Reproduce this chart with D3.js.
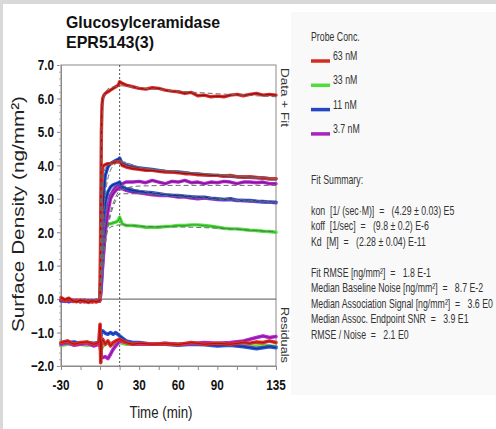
<!DOCTYPE html>
<html>
<head>
<meta charset="utf-8">
<script src="https://cdn.jsdelivr.net/npm/d3@7"></script>
<style>
  body{margin:0;padding:0;background:#fff;}
  svg{display:block;}
</style>
</head>
<body>
<div class="container"></div>
<script>
// time points (min) shared by all sensorgram traces
var T=[-30,-27,-24,-21,-18,-15,-12,-9,-6,-3,-0.5, 0,0.5,1,1.5,2,3,4,6,8,10,12,14,15, 17,20,25,30,35,40,45,50,55,60,65,70,75,80,85,90,95,100,105,110,115,120,125,130,135];
// surface density (ng/mm2)
var r63a=[0.05,-0.02,0.03,-0.05,-0.08,-0.03,-0.06,-0.1,-0.05,-0.08,-0.05, 0.0,2.5,5.0,5.8,6.0,6.1,6.15,6.2,6.25,6.3,6.35,6.4,6.5, 6.45,6.4,6.35,6.3,6.28,6.32,6.3,6.25,6.22,6.2,6.15,6.18,6.08,6.1,6.05,6.07,6.05,6.1,6.12,6.08,6.12,6.15,6.1,6.12,6.1];
var r63b=[0.0,-0.05,-0.02,-0.06,-0.04,-0.08,-0.05,-0.06,-0.09,-0.04,-0.05, 0.0,1.5,3.0,3.7,3.95,4.0,4.02,4.05,4.05,4.08,4.1,4.1,4.12, 4.0,3.95,3.9,3.88,3.85,3.85,3.82,3.8,3.8,3.78,3.75,3.75,3.72,3.72,3.7,3.7,3.68,3.7,3.66,3.65,3.66,3.64,3.62,3.6,3.6];
var b11a=[-0.03,-0.06,-0.02,-0.07,-0.05,-0.04,-0.08,-0.05,-0.06,-0.03,-0.04, 0.0,0.6,1.3,2.0,2.6,3.3,3.7,3.95,4.05,4.1,4.15,4.18,4.22, 4.05,4.0,3.95,3.92,3.9,3.88,3.85,3.82,3.8,3.8,3.78,3.75,3.74,3.72,3.7,3.7,3.68,3.67,3.66,3.65,3.64,3.63,3.62,3.6,3.6];
var b11b=[-0.05,-0.03,-0.07,-0.04,-0.06,-0.05,-0.03,-0.07,-0.04,-0.06,-0.05, 0.0,0.4,0.9,1.4,1.9,2.5,2.9,3.2,3.35,3.42,3.45,3.48,3.5, 3.35,3.3,3.25,3.22,3.2,3.18,3.15,3.12,3.1,3.1,3.08,3.06,3.05,3.05,3.02,3.0,2.98,3.0,2.96,2.95,2.95,2.93,2.92,2.9,2.9];
var p37a=[-0.04,-0.07,-0.05,-0.03,-0.06,-0.08,-0.04,-0.05,-0.07,-0.05,-0.06, 0.0,0.2,0.5,0.8,1.1,1.7,2.2,2.8,3.1,3.25,3.35,3.4,3.45, 3.45,3.5,3.5,3.52,3.48,3.55,3.5,3.45,3.52,3.5,3.55,3.48,3.5,3.45,3.5,3.48,3.52,3.5,3.45,3.5,3.5,3.48,3.5,3.45,3.45];
var p37b=[-0.06,-0.04,-0.08,-0.05,-0.03,-0.06,-0.07,-0.04,-0.05,-0.08,-0.06, 0.0,0.15,0.4,0.7,1.0,1.5,2.0,2.6,3.0,3.15,3.25,3.3,3.35, 3.3,3.25,3.2,3.18,3.15,3.12,3.1,3.1,3.08,3.05,3.05,3.02,3.0,3.02,3.0,2.98,2.97,2.98,2.95,2.95,2.93,2.92,2.9,2.9,2.88];
var g33=[-0.02,-0.05,-0.04,-0.06,-0.03,-0.05,-0.07,-0.04,-0.06,-0.05,-0.04, 0.0,0.5,1.0,1.5,1.9,2.15,2.2,2.25,2.25,2.28,2.3,2.35,2.45, 2.25,2.2,2.2,2.18,2.15,2.15,2.15,2.17,2.18,2.2,2.2,2.22,2.22,2.2,2.18,2.15,2.12,2.1,2.1,2.08,2.06,2.05,2.03,2.02,2.0];

// fitted curves (dashed)
var FT=[0,1,2,3,5,8,12,15,30,60,90,120,135];
var fitR63a=[0,4.6,5.7,6.05,6.25,6.32,6.36,6.38,6.32,6.22,6.14,6.08,6.05];
var fitR63b=[0,2.6,3.5,3.8,3.97,4.05,4.08,4.1,3.95,3.82,3.72,3.64,3.6];
var fitB11a=[0,1.2,2.1,2.7,3.4,3.85,4.05,4.12,3.95,3.82,3.72,3.64,3.6];
var fitB11b=[0,0.9,1.6,2.1,2.7,3.1,3.32,3.4,3.25,3.12,3.02,2.94,2.9];
var fitP37a=[0,0.5,1.0,1.4,2.0,2.6,3.05,3.25,3.38,3.4,3.4,3.4,3.4];
var fitP37b=[0,0.4,0.9,1.3,1.9,2.5,2.95,3.15,3.15,3.06,2.98,2.92,2.88];
var fitG33=[0,0.9,1.4,1.7,2.0,2.15,2.2,2.22,2.18,2.16,2.12,2.05,2.02];

// residuals, drawn with their offset around -1.35
var RT=[-30,-25,-20,-15,-10,-5,-1, 0,0.5,1,2,4,6,8,10,12,15, 20,25,30, 40,50,60,70,80,90,100,110, 115,120,125,130,135];
var resR=[-1.3,-1.25,-1.35,-1.3,-1.28,-1.35,-1.3, -0.75,-1.9,-1.3,-1.2,-1.35,-1.25,-1.4,-1.3,-1.25,-1.2, -1.3,-1.35,-1.32, -1.35,-1.33,-1.36,-1.3,-1.35,-1.32,-1.35,-1.3, -1.32,-1.28,-1.3,-1.25,-1.3];
var resB=[-1.32,-1.3,-1.28,-1.33,-1.3,-1.32,-1.3, -1.25,-1.15,-1.0,-0.95,-1.02,-1.05,-1.0,-1.05,-1.0,-1.1, -1.25,-1.3,-1.3, -1.35,-1.35,-1.38,-1.35,-1.36,-1.4,-1.38,-1.42, -1.45,-1.48,-1.45,-1.42,-1.45];
var resP=[-1.35,-1.3,-1.38,-1.35,-1.32,-1.4,-1.35, -1.4,-1.55,-1.7,-1.75,-1.72,-1.78,-1.65,-1.5,-1.4,-1.25, -1.3,-1.35,-1.35, -1.35,-1.32,-1.35,-1.33,-1.3,-1.32,-1.3,-1.25, -1.2,-1.15,-1.1,-1.15,-1.12];
var resG=[-1.38,-1.35,-1.32,-1.35,-1.38,-1.35,-1.33, -1.3,-1.45,-1.5,-1.4,-1.35,-1.3,-1.32,-1.35,-1.3,-1.3, -1.35,-1.35,-1.34, -1.35,-1.33,-1.35,-1.32,-1.35,-1.36,-1.38,-1.4, -1.42,-1.4,-1.38,-1.4,-1.42];

// axis ticks
var yTicks=[-2,-1,0,1,2,3,4,5,6,7];
var xTickLabels=[-30,0,30,60,90,135];

// legend + fit summary
var legendNames=["63 nM","33 nM","11 nM","3.7 nM"];
var legendColors=["#d42a22","#4fdc3c","#2447c0","#a424bc"];
var statLines=[
  "kon  [1/ (sec·M)]  =   (4.29 ± 0.03) E5",
  "koff  [1/sec]  =   (9.8 ± 0.2) E-6",
  "Kd  [M]  =   (2.28 ± 0.04) E-11",
  "",
  "Fit RMSE [ng/mm²]  =   1.8 E-1",
  "Median Baseline Noise [ng/mm²]  =   8.7 E-2",
  "Median Association Signal [ng/mm²]  =   3.6 E0",
  "Median Assoc. Endpoint SNR  =   3.9 E1",
  "RMSE / Noise  =   2.1 E0"
];

var w=496, h=429;
var narrow="'Liberation Sans Narrow','Arial Narrow','Liberation Sans',Arial,sans-serif";
var plain="'Liberation Sans',Arial,sans-serif";

var svg=d3.select(".container").append("svg")
  .attr("width",w)
  .attr("height",h);

// gray frame + white page + off-white side panel
svg.append("rect").attr("width",w).attr("height",h).attr("fill","#d9d9d9");
svg.append("rect").attr("x",3).attr("y",4).attr("width",w-3).attr("height",h-4).attr("fill","#ffffff");
svg.append("rect").attr("x",291).attr("y",12).attr("width",205).attr("height",383).attr("fill","#f9f9f9");

// scales
var x=d3.scaleLinear().domain([-30,135]).range([61,276]);
var y=d3.scaleLinear().domain([-2,7]).range([366,65]);

// condense a text element to a share of its natural width
function squeeze(sel,f){
  sel.each(function(){
    var len=this.getComputedTextLength();
    d3.select(this).attr("textLength",len*f).attr("lengthAdjust","spacingAndGlyphs");
  });
}

// frame of plot
svg.append("rect")
  .attr("x",x(-30)).attr("y",y(7))
  .attr("width",x(135)-x(-30)).attr("height",y(-2)-y(7))
  .attr("fill","none").attr("stroke","#8a8a8a").attr("stroke-width",1);

// left axis: major + minor ticks
var yAxis=d3.axisLeft(y).tickValues(yTicks).tickFormat(d3.format(".1f")).tickSize(4).tickPadding(3);
var gy=svg.append("g").attr("transform","translate("+x(-30)+",0)").call(yAxis);
gy.select(".domain").attr("stroke","#8a8a8a");
gy.selectAll(".tick line").attr("stroke","#8a8a8a");
gy.selectAll("text")
  .attr("font-family",narrow).attr("font-weight","bold").attr("font-size",15).attr("fill","#111")
  .call(squeeze,0.78);
svg.append("g").attr("transform","translate("+x(-30)+",0)")
  .call(d3.axisLeft(y).tickValues(d3.range(-2,7.01,0.2)).tickSize(2).tickFormat(""))
  .call(function(g){g.select(".domain").remove();g.selectAll("line").attr("stroke","#aaa");});

// bottom axis
var gx=svg.append("g").attr("transform","translate(0,"+y(-2)+")")
  .call(d3.axisBottom(x).tickValues(d3.range(-30,136,15)).tickSize(4).tickFormat(""));
gx.select(".domain").attr("stroke","#8a8a8a");
gx.selectAll("line").attr("stroke","#8a8a8a");
svg.append("g").selectAll("text").data(xTickLabels).enter().append("text")
  .attr("x",function(d){return x(d);})
  .attr("y",y(-2)+24)
  .attr("text-anchor","middle")
  .attr("font-family",narrow).attr("font-weight","bold").attr("font-size",15).attr("fill","#111")
  .text(function(d){return d;})
  .call(squeeze,0.78);

// zero line and injection-end marker
svg.append("line")
  .attr("x1",x(-30)).attr("x2",x(135)).attr("y1",y(0)).attr("y2",y(0))
  .attr("stroke","#555").attr("stroke-width",1);
svg.append("line")
  .attr("x1",x(15)).attr("x2",x(15)).attr("y1",y(7)).attr("y2",y(-2))
  .attr("stroke","#555").attr("stroke-width",1).attr("stroke-dasharray","2,2");

// traces
function pts(tt,vv){
  var out=[];
  for(var i=0;i<Math.min(tt.length,vv.length);i++){out.push([tt[i],vv[i]]);}
  return out;
}
var line=d3.line().x(function(d){return x(d[0]);}).y(function(d){return y(d[1]);});
var smooth=d3.line().curve(d3.curveMonotoneX).x(function(d){return x(d[0]);}).y(function(d){return y(d[1]);});

var traces=[
  {v:g33,c:"#52e040",k:"#2fae2a"},
  {v:p37a,c:"#b62ad0",k:"#7e1592"},
  {v:p37b,c:"#b62ad0",k:"#7e1592"},
  {v:b11b,c:"#2a55d8",k:"#142c86"},
  {v:b11a,c:"#2a55d8",k:"#142c86"},
  {v:r63b,c:"#e0302a",k:"#961010"},
  {v:r63a,c:"#e0302a",k:"#961010"}
];
var plot=svg.append("g");
traces.forEach(function(s){
  plot.append("path").datum(pts(T,s.v)).attr("d",line)
    .attr("fill","none").attr("stroke",s.c).attr("stroke-width",3.4)
    .attr("stroke-linejoin","round").attr("stroke-linecap","round");
  plot.append("path").datum(pts(T,s.v)).attr("d",line)
    .attr("fill","none").attr("stroke",s.k).attr("stroke-width",1.2)
    .attr("stroke-linejoin","round");
});
// fits
[fitG33,fitP37a,fitP37b,fitB11b,fitB11a,fitR63b,fitR63a].forEach(function(f){
  plot.append("path").datum(pts(FT,f)).attr("d",smooth)
    .attr("fill","none").attr("stroke","#6a6a6a").attr("stroke-width",1)
    .attr("stroke-dasharray","5,3");
});

// residuals
var res=[
  {v:resG,c:"#52e040",k:"#d8c020"},
  {v:resB,c:"#2a55d8",k:"#142c86"},
  {v:resP,c:"#b62ad0",k:"#7e1592"},
  {v:resR,c:"#e0302a",k:"#a01414"}
];
res.forEach(function(s){
  plot.append("path").datum(pts(RT,s.v)).attr("d",line)
    .attr("fill","none").attr("stroke",s.c).attr("stroke-width",3.6)
    .attr("stroke-linejoin","round").attr("stroke-linecap","round");
  plot.append("path").datum(pts(RT,s.v)).attr("d",line)
    .attr("fill","none").attr("stroke",s.k).attr("stroke-width",1)
    .attr("stroke-linejoin","round");
});

// side labels of the plot
svg.append("text")
  .attr("transform","translate(281,68) rotate(90)")
  .attr("font-family",plain).attr("font-size",11).attr("fill","#333")
  .attr("textLength",59).attr("lengthAdjust","spacingAndGlyphs")
  .text("Data + Fit");
svg.append("text")
  .attr("transform","translate(281,307) rotate(90)")
  .attr("font-family",plain).attr("font-size",11).attr("fill","#333")
  .attr("textLength",56).attr("lengthAdjust","spacingAndGlyphs")
  .text("Residuals");

// title
svg.append("text").attr("x",66).attr("y",28)
  .attr("font-family",narrow).attr("font-weight","bold").attr("font-size",17).attr("fill","#111")
  .attr("textLength",154).attr("lengthAdjust","spacingAndGlyphs")
  .text("Glucosylceramidase");
svg.append("text").attr("x",66).attr("y",48)
  .attr("font-family",narrow).attr("font-weight","bold").attr("font-size",17).attr("fill","#111")
  .attr("textLength",88).attr("lengthAdjust","spacingAndGlyphs")
  .text("EPR5143(3)");

// axis titles
svg.append("text")
  .attr("transform","translate(24,214) rotate(-90)")
  .attr("text-anchor","middle")
  .attr("font-family",plain).attr("font-size",17).attr("fill","#222")
  .attr("textLength",236).attr("lengthAdjust","spacingAndGlyphs")
  .text("Surface Density (ng/mm²)");
svg.append("text").attr("x",161).attr("y",418)
  .attr("text-anchor","middle")
  .attr("font-family",narrow).attr("font-size",16).attr("fill","#222")
  .attr("textLength",63).attr("lengthAdjust","spacingAndGlyphs")
  .text("Time (min)");

// legend panel (text squeezed horizontally to match the condensed look)
var lg=svg.append("g").attr("transform","translate(311,0)");
var txt=lg.append("g").attr("font-family",narrow).attr("font-size",12).attr("fill","#333");
txt.append("text").attr("x",0).attr("y",41).text("Probe Conc.");
legendNames.forEach(function(n,i){
  lg.append("line")
    .attr("x1",0).attr("x2",19).attr("y1",61+i*24.3).attr("y2",61+i*24.3)
    .attr("stroke",legendColors[i]).attr("stroke-width",3.5);
  txt.append("text").attr("x",22).attr("y",60+i*24.3).text(n);
});
txt.append("text").attr("x",0).attr("y",184).text("Fit Summary:");
txt.selectAll(".stat").data(statLines).enter().append("text")
  .attr("class","stat")
  .attr("x",0)
  .attr("y",function(d,i){return 215+i*15.5;})
  .attr("xml:space","preserve")
  .style("white-space","pre")
  .text(function(d){return d;});
// squeeze so the longest line ends near the right edge
var longest=0;
txt.selectAll("text").each(function(){longest=Math.max(longest,this.getComputedTextLength());});
var k=182/longest;
txt.attr("transform","scale("+k+",1)");
txt.selectAll("text").attr("x",function(){return +d3.select(this).attr("x")/k;});
</script>
</body>
</html>
